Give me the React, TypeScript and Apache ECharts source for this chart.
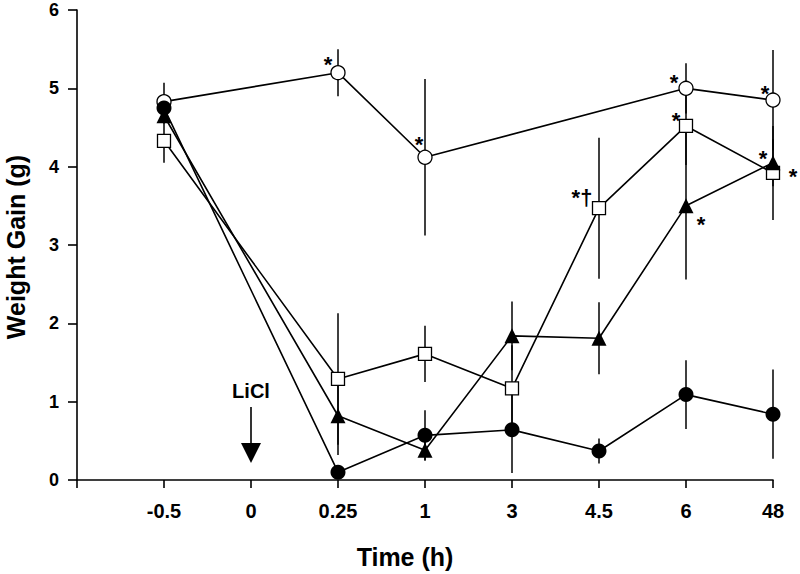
import React, { useEffect, useRef } from "react";
import * as echarts from "echarts";

const categories = ["", "-0.5", "0", "0.25", "1", "3", "4.5", "6", "48"];
const openCircle = [null, 4.83, null, 5.2, 4.12, null, null, 5.0, 4.85];
const openCircleErr = [null, 0.24, null, 0.3, 1.0, null, null, 0.32, 0.64];
const filledCircle = [null, 4.75, null, 0.1, 0.57, 0.64, 0.37, 1.09, 0.84];
const filledCircleErr = [null, 0.1, null, 0.05, 0.32, 0.55, 0.16, 0.44, 0.57];
const openSquare = [null, 4.33, null, 1.29, 1.61, 1.17, 3.47, 4.52, 3.92];
const openSquareErr = [null, 0.28, null, 0.84, 0.36, 0.55, 0.9, 0.5, 0.6];
const filledTriangle = [null, 4.65, null, 0.82, 0.38, 1.84, 1.81, 3.5, 4.05];
const filledTriangleErr = [null, 0.1, null, 0.5, 0.13, 0.44, 0.46, 0.94, 0.3];

// annotations: [category index, value, text]
const annotations: [number, number, string][] = [
  [3, 5.2, "*"],
  [4, 4.12, "*"],
  [7, 5.0, "*"],
  [8, 4.85, "*"],
  [7, 4.52, "*"],
  [6, 3.47, "*†"],
  [8, 4.05, "*"],
  [8, 3.92, "*"],
  [7, 3.5, "*"],
];
// pixel offsets of each annotation from its point (style only)
const annotationOffsets: [number, number][] = [
  [-10, -8],
  [-6, -13],
  [-12, -6],
  [-8, -7],
  [-10, -5],
  [-17, -11],
  [-10, -4],
  [20, 4],
  [15, 19],
];

const treatmentIndex = 2;
const treatmentLabel = "LiCl";

const FONT = "'Liberation Sans', Arial, Helvetica, sans-serif";

function errData(vals: (number | null)[], errs: (number | null)[]) {
  const out: number[][] = [];
  vals.forEach((v, i) => {
    const e = errs[i];
    if (v != null && e != null) out.push([i, v - e, v + e]);
  });
  return out;
}

export default function App() {
  const ref = useRef<HTMLDivElement>(null);
  useEffect(() => {
    if (!ref.current) return;
    const chart = echarts.init(ref.current, undefined, { renderer: "svg" });
    const allErr = [
      ...errData(openCircle, openCircleErr),
      ...errData(filledCircle, filledCircleErr),
      ...errData(openSquare, openSquareErr),
      ...errData(filledTriangle, filledTriangleErr),
    ];
    const lineBase = {
      type: "line",
      connectNulls: true,
      lineStyle: { color: "#000", width: 1.6 },
      z: 3,
    };
    chart.setOption({
      animation: false,
      backgroundColor: "#fff",
      grid: { left: 77, right: 27, top: 10, bottom: 94 },
      xAxis: {
        type: "category",
        data: categories,
        boundaryGap: false,
        axisLine: { lineStyle: { color: "#000", width: 1.6 } },
        axisTick: { length: 8, lineStyle: { color: "#000", width: 1.6 } },
        axisLabel: {
          color: "#000",
          fontFamily: FONT,
          fontWeight: "bold",
          fontSize: 20,
          margin: 21,
        },
        splitLine: { show: false },
      },
      yAxis: {
        type: "value",
        min: 0,
        max: 6,
        interval: 1,
        axisLine: { show: true, lineStyle: { color: "#000", width: 1.6 } },
        axisTick: { show: true, length: 9, lineStyle: { color: "#000", width: 1.6 } },
        axisLabel: {
          color: "#000",
          fontFamily: FONT,
          fontWeight: "bold",
          fontSize: 18,
          margin: 18,
        },
        splitLine: { show: false },
      },
      graphic: [
        {
          type: "text",
          x: 16,
          y: 247,
          rotation: Math.PI / 2,
          style: {
            text: "Weight Gain (g)",
            font: `bold 25px ${FONT}`,
            fill: "#000",
            align: "center",
            verticalAlign: "middle",
          },
        },
        {
          type: "text",
          x: 405,
          y: 557,
          style: {
            text: "Time (h)",
            font: `bold 25px ${FONT}`,
            fill: "#000",
            align: "center",
            verticalAlign: "middle",
          },
        },
      ],
      series: [
        {
          type: "custom",
          z: 1,
          data: allErr,
          renderItem: (_p: any, api: any) => {
            const a = api.coord([api.value(0), api.value(1)]);
            const b = api.coord([api.value(0), api.value(2)]);
            return {
              type: "line",
              shape: { x1: a[0], y1: a[1], x2: b[0], y2: b[1] },
              style: { stroke: "#000", lineWidth: 1.5 },
            };
          },
        },
        {
          ...lineBase,
          name: "open circle",
          data: openCircle,
          symbol: "circle",
          symbolSize: 14,
          itemStyle: { color: "#fff", borderColor: "#000", borderWidth: 1.3 },
        },
        {
          ...lineBase,
          name: "open square",
          data: openSquare,
          symbol: "rect",
          symbolSize: 13,
          itemStyle: { color: "#fff", borderColor: "#000", borderWidth: 1.3 },
        },
        {
          ...lineBase,
          name: "filled triangle",
          data: filledTriangle,
          symbol: "triangle",
          symbolSize: 15,
          itemStyle: { color: "#000", borderColor: "#000", borderWidth: 0 },
        },
        {
          ...lineBase,
          name: "filled circle",
          data: filledCircle,
          symbol: "circle",
          symbolSize: 15,
          itemStyle: { color: "#000", borderColor: "#000", borderWidth: 0 },
        },
        {
          type: "custom",
          z: 5,
          data: annotations.map((a, i) => [a[0], a[1], i]),
          renderItem: (_p: any, api: any) => {
            const idx = api.value(2);
            const p = api.coord([api.value(0), api.value(1)]);
            const off = annotationOffsets[idx];
            const txt = annotations[idx][2];
            return {
              type: "text",
              x: p[0] + off[0],
              y: p[1] + off[1],
              style: {
                text: txt,
                font: `bold 22px ${FONT}`,
                fill: "#000",
                align: "center",
                verticalAlign: "middle",
              },
            };
          },
        },
        {
          type: "custom",
          z: 5,
          data: [[treatmentIndex, 0]],
          renderItem: (_p: any, api: any) => {
            const p = api.coord([api.value(0), api.value(1)]);
            const x = p[0];
            const y = p[1];
            return {
              type: "group",
              children: [
                {
                  type: "text",
                  x: x,
                  y: y - 89,
                  style: {
                    text: treatmentLabel,
                    font: `bold 20px ${FONT}`,
                    fill: "#000",
                    align: "center",
                    verticalAlign: "middle",
                  },
                },
                {
                  type: "line",
                  shape: { x1: x, y1: y - 73, x2: x, y2: y - 36 },
                  style: { stroke: "#000", lineWidth: 1.6 },
                },
                {
                  type: "polygon",
                  shape: {
                    points: [
                      [x - 10, y - 37],
                      [x + 10, y - 37],
                      [x, y - 17],
                    ],
                  },
                  style: { fill: "#000" },
                },
              ],
            };
          },
        },
      ],
    });
    return () => chart.dispose();
  }, []);
  return <div ref={ref} style={{ width: 800, height: 574, position: "absolute", left: 0, top: 0 }} />;
}
